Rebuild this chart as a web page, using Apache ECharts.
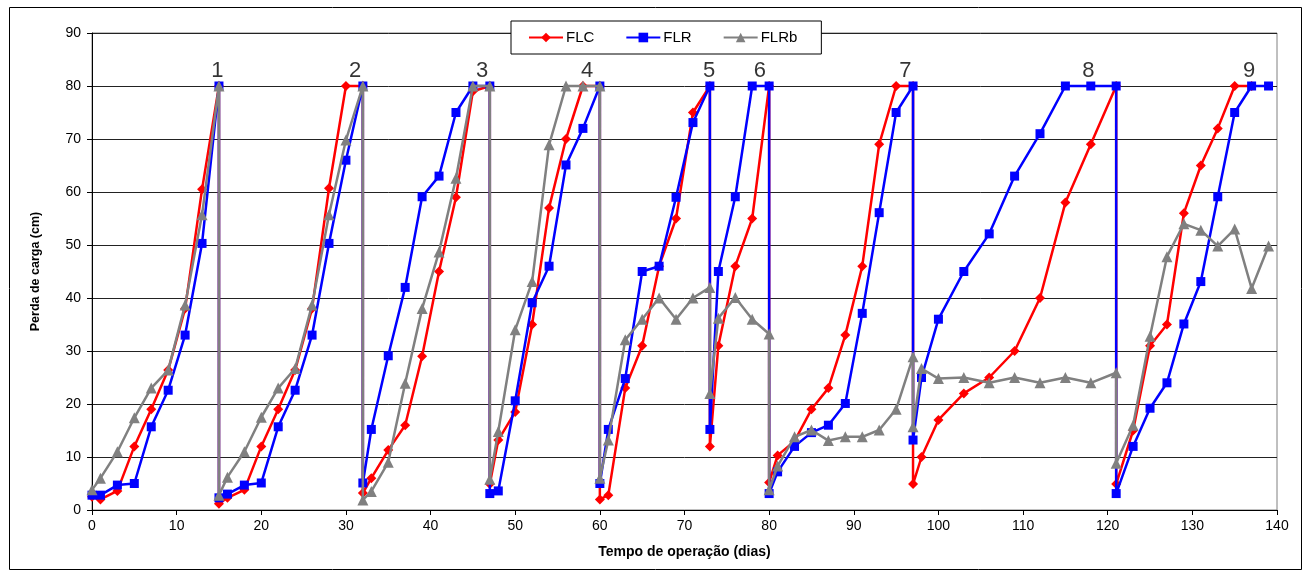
<!DOCTYPE html>
<html>
<head>
<meta charset="utf-8">
<script src="https://cdn.jsdelivr.net/npm/echarts@6/dist/echarts.min.js"></script>
<style>html,body{margin:0;padding:0;background:#fff}#c{width:1306px;height:574px}</style>
</head>
<body>
<div id="c"></div>
<script>
const xTicks = [0,10,20,30,40,50,60,70,80,90,100,110,120,130,140];
const yTicks = [0,10,20,30,40,50,60,70,80,90];

const FLC = [
  [0,2.5],[1,2],[3,3.6],[5,12],[7,19],[9,26.4],[11,38],[13,60.5],[15,80],
  [15,1.2],[16,2.3],[18,3.8],[20,12],[22,19],[24,26.4],[26,38],[28,60.7],[30,80],[32,80],
  [32,3.2],[33,6],[35,11.3],[37,16],[39,29],[41,45],[43,59],[45,79],[47,80],
  [47,4.9],[48,13.2],[50,18.5],[52,35],[54,57],[56,70],[58,80],[60,80],
  [60,2],[61,2.8],[63,23],[65,31],[67,46],[69,55],[71,75],[73,80],
  [73,12],[74,31],[76,46],[78,55],[80,80],
  [80,5.2],[81,10.3],[83,13],[85,19],[87,23],[89,33],[91,46],[93,69],[95,80],[97,80],
  [97,4.9],[98,10],[100,17],[103,22],[106,25],[109,30],[112,40],[115,58],[118,69],[121,80],
  [121,4.9],[123,15],[125,31],[127,35],[129,56],[131,65],[133,72],[135,80],[137,80]
];
const FLR = [
  [0,2.8],[1,2.8],[3,4.7],[5,5],[7,15.7],[9,22.6],[11,33],[13,50.3],[15,80],
  [15,2.3],[16,3],[18,4.7],[20,5.1],[22,15.7],[24,22.6],[26,33],[28,50.3],[30,66],[32,80],
  [32,5.1],[33,15.2],[35,29.1],[37,42],[39,59.1],[41,63],[43,75],[45,80],[47,80],
  [47,3.1],[48,3.6],[50,20.6],[52,39.1],[54,46],[56,65.1],[58,72],[60,80],
  [60,5],[61,15.2],[63,24.8],[65,45],[67,46],[69,59],[71,73.1],[73,80],
  [73,15.2],[74,45],[76,59.1],[78,80],[80,80],
  [80,3.1],[81,7.2],[83,12],[85,14.6],[87,16],[89,20.1],[91,37.1],[93,56.1],[95,75],[97,80],
  [97,13.2],[98,25],[100,36],[103,45],[106,52.1],[109,63],[112,71],[115,80],[118,80],[121,80],
  [121,3.1],[123,12],[125,19.2],[127,24],[129,35.1],[131,43.1],[133,59.1],[135,75],[137,80],[139,80]
];
const FLRb = [
  [0,3.8],[1,6],[3,11],[5,17.4],[7,23],[9,26.4],[11,38.7],[13,55.7],[15,80],
  [15,2.8],[16,6.2],[18,11],[20,17.5],[22,23],[24,26.7],[26,38.7],[28,55.7],[30,69.8],[32,80],
  [32,1.9],[33,3.5],[35,9],[37,23.9],[39,38],[41,48.7],[43,62.6],[45,80],[47,80],
  [47,5.8],[48,14.8],[50,34],[52,43.1],[54,68.9],[56,80],[58,80],[60,80],
  [60,6],[61,13.2],[63,32.1],[65,36],[67,40],[69,36],[71,40],[73,42],
  [73,22],[74,36.2],[76,40.1],[78,36],[80,33.2],
  [80,3.8],[81,8.3],[83,13.8],[85,15.1],[87,13.1],[89,13.8],[91,13.8],[93,15.1],[95,19],[97,28.9],
  [97,15.7],[98,26.7],[100,24.8],[103,25],[106,24],[109,25],[112,24],[115,25],[118,24],[121,25.9],
  [121,8.8],[123,16],[125,32.8],[127,47.8],[129,54],[131,52.8],[133,49.8],[135,53],[137,41.8],[139,49.8]
];
const peakNames = ['1','2','3','4','5','6','7','8','9'];
const peakX = [14.8,31.1,46.1,58.5,72.9,78.9,96.1,117.7,136.7];
const peakY = 80;

const chart = echarts.init(document.getElementById('c'), null, {renderer:'canvas'});
const font = 'Arial, "Liberation Sans", Helvetica, sans-serif';
chart.setOption({
  animation:false,
  backgroundColor:'#fff',
  textStyle:{fontFamily:font},
  graphic:[{type:'rect',shape:{x:9.5,y:7.5,width:1292,height:562},style:{fill:'none',stroke:'#000',lineWidth:1},z:-10}],
  legend:{
    data:['FLC','FLR','FLRb'],
    left:511, top:21,
    backgroundColor:'#fff', borderColor:'#000', borderWidth:1,
    padding:[9,24,9,17],
    itemWidth:34, itemHeight:12, itemGap:31,
    textStyle:{fontSize:15,color:'#000',fontFamily:font, padding:[0,0,0,-2]}
  },
  grid:{left:92,right:29,top:33,bottom:64,show:true,borderColor:'#808080',borderWidth:1,backgroundColor:'transparent'},
  xAxis:{
    type:'value',min:0,max:140,interval:10,
    name:'Tempo de operação (dias)',nameLocation:'middle',nameGap:35,
    nameTextStyle:{fontSize:14,fontWeight:'bold',color:'#000',fontFamily:font},
    axisLine:{show:true,onZero:false,lineStyle:{color:'#000',width:1}},
    axisTick:{show:true,inside:false,length:5,lineStyle:{color:'#000'}},
    axisLabel:{fontSize:14,color:'#000',margin:9,formatter:v=>xTicks.includes(v)?String(v):''},
    splitLine:{show:false}
  },
  yAxis:{
    type:'value',min:0,max:90,interval:10,
    name:'Perda de carga (cm)',nameLocation:'middle',nameGap:50,
    nameTextStyle:{fontSize:12.5,fontWeight:'bold',color:'#000',fontFamily:font},
    axisLine:{show:true,lineStyle:{color:'#000',width:1}},
    axisTick:{show:true,inside:false,length:5,lineStyle:{color:'#000'}},
    axisLabel:{fontSize:14,color:'#000',margin:11,formatter:v=>yTicks.includes(v)?String(v):''},
    splitLine:{show:true,lineStyle:{color:'#222',width:1}}
  },
  series:[
    {name:'FLC',type:'line',data:FLC,symbol:'diamond',symbolSize:10,showAllSymbol:true,
     itemStyle:{color:'#ff0000'},lineStyle:{color:'#ff0000',width:2.5},z:2},
    {name:'FLR',type:'line',data:FLR,symbol:'rect',symbolSize:9,showAllSymbol:true,
     itemStyle:{color:'#0000ff'},lineStyle:{color:'#0000ff',width:2.5},z:3},
    {name:'FLRb',type:'line',data:FLRb,symbol:'triangle',symbolSize:11,showAllSymbol:true,
     itemStyle:{color:'#808080'},lineStyle:{color:'#808080',width:2.5},z:4},
    {name:'peaks',type:'scatter',symbolSize:0,silent:true,z:5,
     data:peakX.map((x,i)=>({value:[x,peakY],name:peakNames[i]})),
     label:{show:true,position:'top',distance:4,formatter:p=>p.name,fontSize:22,color:'#000',fontFamily:font}}
  ]
});
</script>
</body>
</html>
